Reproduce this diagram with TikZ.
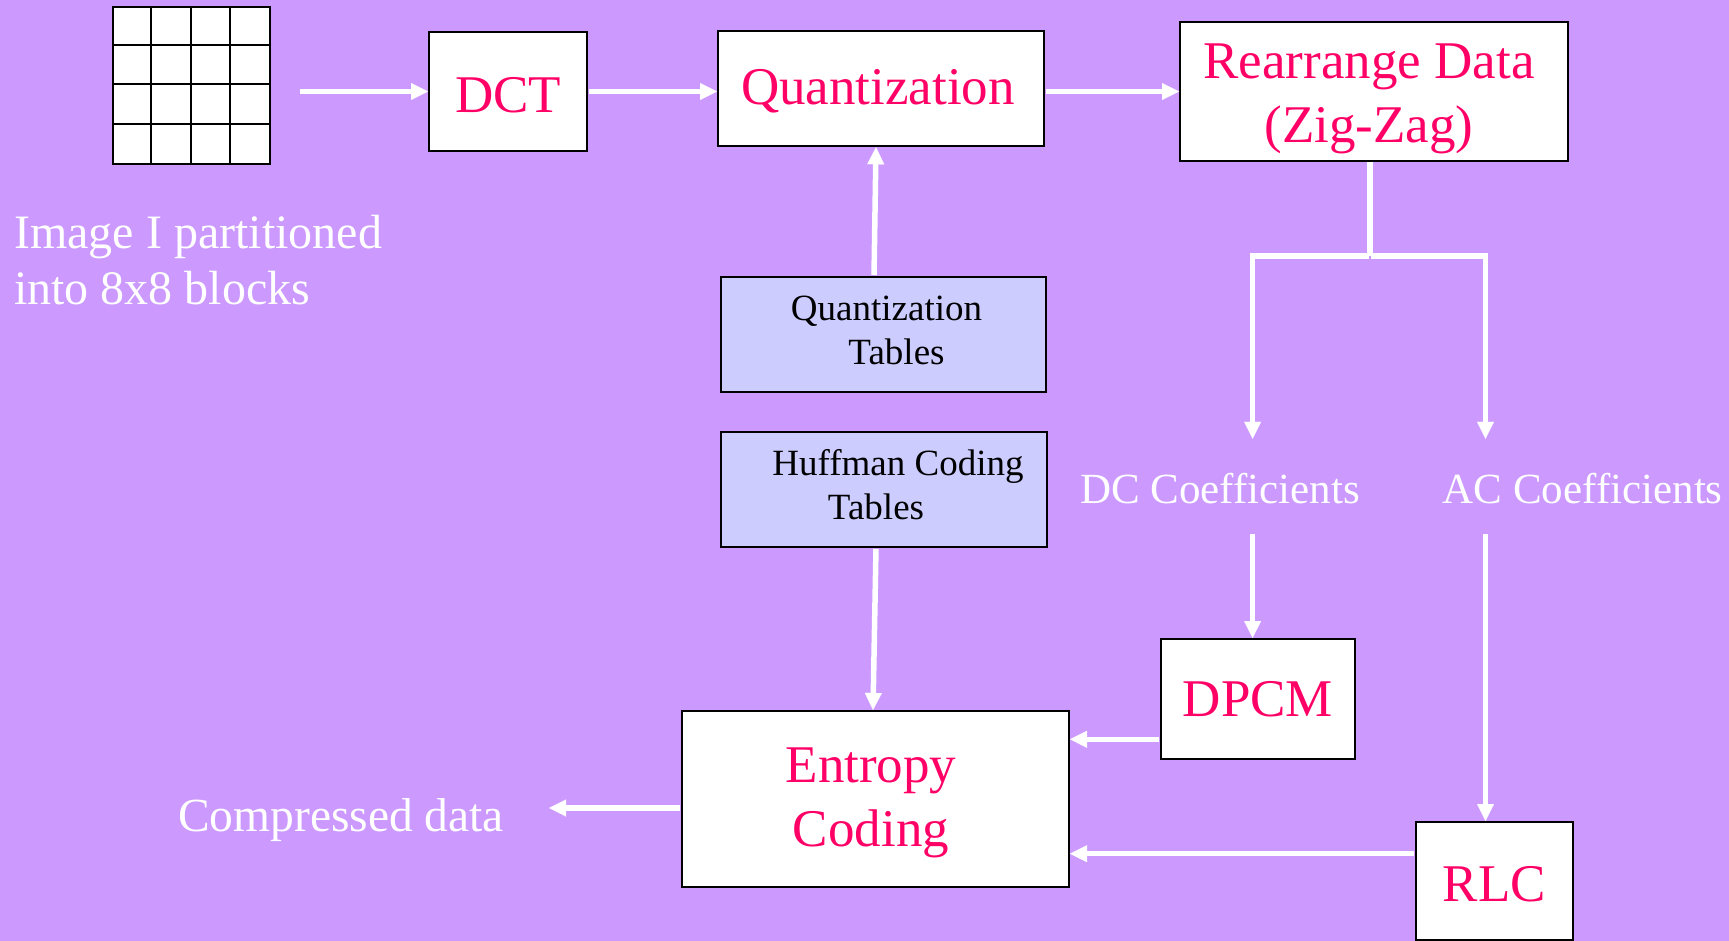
\documentclass[tikz,border=0pt]{standalone}
\usepackage{fontspec}
\setmainfont{Liberation Serif}
\usetikzlibrary{arrows.meta}
\definecolor{bgpurple}{HTML}{CC99FF}
\definecolor{tblfill}{HTML}{CCCCFF}
\definecolor{redtext}{HTML}{FF0066}
\newcommand\linesc[2]{\vtop{\halign{\hfil##\hfil\cr#1\cr#2\cr}}}
\newcommand\linesl[2]{\vtop{\halign{##\hfil\cr#1\cr#2\cr}}}
\begin{document}
\begin{tikzpicture}[x=1pt,y=-1pt,
  box/.style={draw=black, line width=2pt, fill=white, inner sep=0pt},
  tbl/.style={box, fill=tblfill},
  redlbl/.style={font=\fontsize{53}{64}\selectfont, text=redtext},
  blklbl/.style={font=\fontsize{37}{44}\selectfont, text=black},
  whlbl/.style={text=white, inner sep=0pt},
  arr/.style={draw=white, line width=5.5pt, shorten <=1pt, line join=miter,
    -{Triangle[length=17pt,width=17pt,line width=0.1pt]}},
  wline/.style={draw=white, line width=5.5pt}]
\path[use as bounding box, fill=bgpurple] (0,0) rectangle (1729,941);
% image grid
\node[box, minimum width=157pt, minimum height=157pt] (grid) at (191.5,85.5) {};
\foreach \k in {1,2,3} {
  \draw[line width=2pt] ([xshift=\k*39.25pt]grid.north west) -- ([xshift=\k*39.25pt]grid.south west);
  \draw[line width=2pt] ([yshift=-\k*39.25pt]grid.north west) -- ([yshift=-\k*39.25pt]grid.north east);
}
% boxes
\node[box, redlbl, minimum width=158pt, minimum height=119pt, text height=43pt, text depth=0pt] (dct) at (508,91.5) {DCT};
\node[box, redlbl, minimum width=326pt, minimum height=115pt, text height=32.5pt, text depth=0pt] (quant) at (881,88.75) {Quantization\kern6pt};
\node[box, redlbl, minimum width=388pt, minimum height=139pt, text height=0pt, text depth=25pt] (rz) at (1374,91.5) {\linesc{Rearrange Data\kern10pt}{(Zig-Zag)\kern10pt}};
\node[tbl, blklbl, minimum width=325pt, minimum height=115pt, text height=0pt, text depth=29pt] (qt) at (883.5,334.5) {\linesc{\kern6pt Quantization}{\kern26pt Tables}};
\node[tbl, blklbl, minimum width=326pt, minimum height=115pt, text height=0pt, text depth=29pt] (hc) at (884,489.5) {\linesc{\kern28pt Huffman Coding}{Tables\kern16pt}};
\node[box, redlbl, minimum width=387pt, minimum height=176pt, text height=0pt, text depth=33.4pt] (ec) at (875.5,799) {\linesc{Entropy\kern9pt}{Coding\kern9pt}};
\node[box, redlbl, minimum width=194pt, minimum height=120pt, text height=35.4pt, text depth=0pt] (dpcm) at (1258,699) {DPCM};
\node[box, redlbl, minimum width=157pt, minimum height=118pt, text height=41.4pt, text depth=0pt] (rlc) at (1494.5,881) {RLC};
% white texts
\node[whlbl, font=\fontsize{48}{56}\selectfont, anchor=base west] (img) at (14,249) {\linesl{Image I partitioned}{into 8x8 blocks}};
\node[whlbl, font=\fontsize{43}{50}\selectfont, anchor=base west, text height=64pt, text depth=30pt] (dc) at (1080,503) {DC Coefficients};
\node[whlbl, font=\fontsize{43}{50}\selectfont, anchor=base west, text height=64pt, text depth=30pt] (ac) at (1442.6,503) {AC Coefficients};
\node[whlbl, font=\fontsize{47.5}{56}\selectfont, anchor=base west] (cd) at (178,831.7) {Compressed data};
% connectors
\coordinate (gs) at ([xshift=28pt]grid.east);
\draw[arr] (gs |- dct.west) -- (dct.west);
\draw[arr] (dct.east) -- (dct.east -| quant.west);
\draw[arr] (quant.east |- rz.west) -- (rz.west);
\draw[arr] ([xshift=-9.5pt]qt.north) -- ([xshift=-5pt]quant.south);
\coordinate (split) at (1370,256);
\coordinate (dcx) at (1252.6,256);
\coordinate (acx) at (1485.5,256);
\draw[wline] (split |- rz.south) -- (split);
\draw[arr] (split) -- (dcx) -- (dcx |- dc.north);
\draw[arr] (split) -- (acx) -- (acx |- ac.north);
\draw[arr] (dcx |- dc.south) -- (dcx |- dpcm.north);
\draw[arr] (acx |- ac.south) -- (acx |- rlc.north);
\draw[arr] ([xshift=-8pt]hc.south) -- ([xshift=-2.5pt]ec.north);
\coordinate (dp) at ([yshift=-40.3pt]dpcm.west);
\draw[arr] (dp) -- (dp -| ec.east);
\coordinate (rl) at ([yshift=27.3pt]rlc.west);
\draw[arr] (rl) -- (rl -| ec.east);
\coordinate (es) at ([yshift=-9pt]ec.west);
\coordinate (cdx) at ([xshift=44.8pt]cd.east);
\draw[arr] (es) -- (es -| cdx);
\end{tikzpicture}
\end{document}
